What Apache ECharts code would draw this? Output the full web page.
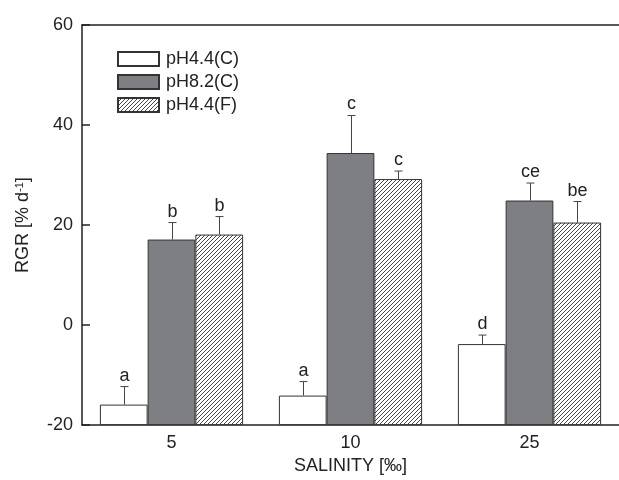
<!DOCTYPE html>
<html>
<head>
<meta charset="utf-8">
<style>
  html, body { margin: 0; padding: 0; background: #fff; }
  #chart { width: 619px; height: 480px; }
</style>
<script src="https://cdn.jsdelivr.net/npm/echarts@6/dist/echarts.min.js"></script>
</head>
<body>
<div id="chart"></div>
<script>
const categories = ['5', '10', '25']
const seriesNames = ['pH4.4(C)', 'pH8.2(C)', 'pH4.4(F)']

// RGR means and SE per salinity
const ph44C = [-15.9, -14.1, -3.8]
const ph82C = [17.1, 34.4, 24.9]
const ph44F = [18.1, 29.2, 20.5]
const ph44CErr = [3.6, 2.8, 1.8]
const ph82CErr = [3.4, 7.5, 3.5]
const ph44FErr = [3.6, 1.6, 4.2]
const ph44CLetters = ['a', 'a', 'd']
const ph82CLetters = ['b', 'c', 'ce']
const ph44FLetters = ['b', 'c', 'be']

const yTicks = [-20, 0, 20, 40, 60]

const fontFamily = '"Liberation Sans", Arial, sans-serif'
const textColor = '#222'
const fontSize = 18

// diagonal hatch tile
function hatch() {
  const c = document.createElement('canvas')
  c.width = 4
  c.height = 4
  const ctx = c.getContext('2d')
  ctx.fillStyle = '#fff'
  ctx.fillRect(0, 0, 4, 4)
  ctx.strokeStyle = '#444'
  ctx.lineWidth = 1
  ctx.beginPath()
  ctx.moveTo(-1, 5); ctx.lineTo(5, -1)
  ctx.moveTo(-1, 1); ctx.lineTo(1, -1)
  ctx.moveTo(3, 5); ctx.lineTo(5, 3)
  ctx.stroke()
  return c
}

const fills = ['#ffffff', '#7e7f83', { image: hatch(), repeat: 'repeat' }]
const values = [ph44C, ph82C, ph44F]
const errs = [ph44CErr, ph82CErr, ph44FErr]
const letters = [ph44CLetters, ph82CLetters, ph44FLetters]

const barCategoryGap = 0.2

function errorSeries(idx) {
  return {
    type: 'custom',
    name: seriesNames[idx] + ' err',
    data: categories.map((c, i) => [i, values[idx][i], errs[idx][i], letters[idx][i]]),
    z: 5,
    renderItem(params, api) {
      const cat = api.value(0)
      const v = api.value(1)
      const e = api.value(2)
      const base = api.coord([cat, v])
      const top = api.coord([cat, v + e])
      const band = api.size([1, 0])[0]
      const bw = band * (1 - barCategoryGap) / 3
      const x = Math.round(base[0] + (idx - 1) * bw) + 0.5
      const style = { stroke: '#444', lineWidth: 1 }
      return {
        type: 'group',
        children: [
          { type: 'line', shape: { x1: x, y1: base[1], x2: x, y2: top[1] }, style },
          { type: 'line', shape: { x1: x - 4, y1: top[1], x2: x + 4, y2: top[1] }, style },
          {
            type: 'text',
            style: {
              x: x,
              y: top[1] - 2,
              text: api.value(3),
              fill: textColor,
              font: fontSize + 'px ' + fontFamily,
              align: 'center',
              verticalAlign: 'bottom'
            }
          }
        ]
      }
    }
  }
}

const chart = echarts.init(document.getElementById('chart'))

chart.setOption({
  animation: false,
  backgroundColor: '#fff',
  grid: { left: 82, right: 0, top: 25, bottom: 53 },
  legend: {
    data: seriesNames,
    orient: 'vertical',
    left: 117,
    top: 50,
    padding: 0,
    itemWidth: 41,
    itemHeight: 14,
    itemGap: 5,
    icon: 'rect',
    textStyle: { fontSize, color: textColor, fontFamily, padding: [0, 0, 0, 2] }
  },
  xAxis: [{
    type: 'category',
    data: categories,
    name: 'SALINITY [‰]',
    nameLocation: 'middle',
    nameGap: 30,
    nameTextStyle: { fontSize, color: textColor, fontFamily },
    axisLine: { onZero: false, lineStyle: { color: '#222', width: 1.5 } },
    axisTick: { inside: true, alignWithLabel: true, length: 7, lineStyle: { color: '#222', width: 1.5 } },
    axisLabel: { fontSize, color: textColor, fontFamily, margin: 9 },
    splitLine: { show: false }
  }, {
    type: 'category',
    data: categories,
    position: 'top',
    axisLine: { onZero: false, lineStyle: { color: '#222', width: 1.5 } },
    axisTick: { show: false },
    axisLabel: { show: false }
  }],
  yAxis: {
    type: 'value',
    min: -20,
    max: 60,
    interval: 20,
    startValue: -20,
    name: '{n|RGR [% d}{s|-1}{n|]}',
    nameLocation: 'middle',
    nameGap: 49,
    nameTextStyle: {
      rich: {
        n: { fontSize, color: textColor, fontFamily },
        s: { fontSize: 11, color: textColor, fontFamily, verticalAlign: 'top', padding: [0, 0, 8, 0] }
      }
    },
    axisLine: { show: true, lineStyle: { color: '#222', width: 1.5 } },
    axisTick: { show: true, inside: true, length: 8, lineStyle: { color: '#222', width: 1.5 } },
    axisLabel: {
      fontSize, color: textColor, fontFamily, margin: 9,
      formatter: v => (yTicks.includes(v) ? String(v) : '')
    },
    splitLine: { show: false }
  },
  series: [
    ...values.map((vals, idx) => ({
      type: 'bar',
      name: seriesNames[idx],
      data: vals,
      barGap: 0,
      barCategoryGap: (barCategoryGap * 100) + '%',
      itemStyle: { color: fills[idx], borderColor: '#333', borderWidth: 1 }
    })),
    errorSeries(0),
    errorSeries(1),
    errorSeries(2)
  ]
})
</script>
</body>
</html>
